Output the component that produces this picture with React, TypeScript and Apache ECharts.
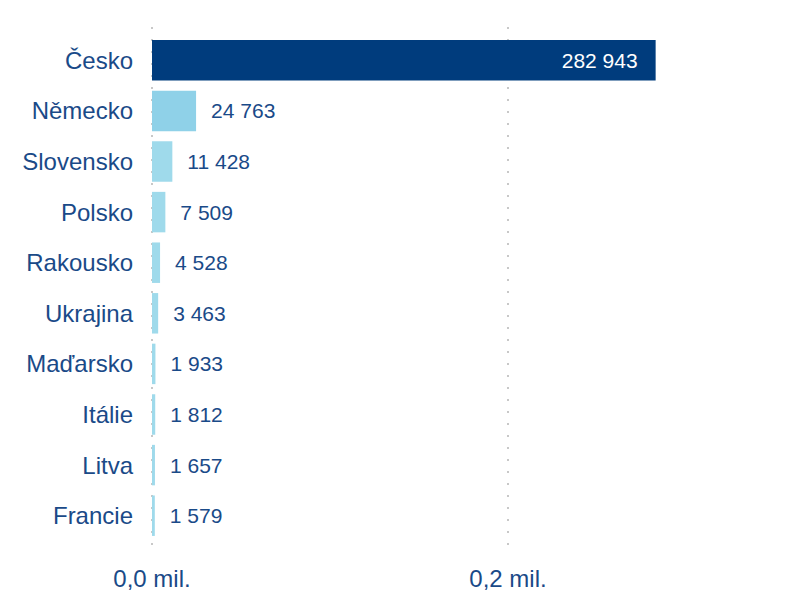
import React, { useEffect, useRef } from "react";
import * as echarts from "echarts";

const categories = ["Česko", "Německo", "Slovensko", "Polsko", "Rakousko", "Ukrajina", "Maďarsko", "Itálie", "Litva", "Francie"];
const values = [282943, 24763, 11428, 7509, 4528, 3463, 1933, 1812, 1657, 1579];
const axisTicks = [0, 200000, 400000];

const NAVY = "#003c7d";
const TEXT = "#1a4a88";
const FONT = "'Liberation Sans', Arial, sans-serif";

function fmtThousands(v: number): string {
  return String(v).replace(/\B(?=(\d{3})+(?!\d))/g, " ");
}

export default function App() {
  const ref = useRef<HTMLDivElement>(null);
  useEffect(() => {
    document.body.style.margin = "0";
    if (!ref.current) return;
    const chart = echarts.init(ref.current, null, { renderer: "svg" });
    const left = 152;
    const width = 712;
    chart.setOption({
      animation: false,
      textStyle: { fontFamily: FONT },
      grid: [
        { left, width, top: 35, height: 506 },
        { left, width, top: 27, height: 528 },
      ],
      xAxis: [
        {
          gridIndex: 0,
          type: "value",
          min: axisTicks[0],
          max: axisTicks[axisTicks.length - 1],
          interval: axisTicks[1] - axisTicks[0],
          axisLabel: { show: false },
          axisLine: { show: false },
          axisTick: { show: false },
          splitLine: { show: false },
        },
        {
          gridIndex: 1,
          type: "value",
          min: axisTicks[0],
          max: axisTicks[axisTicks.length - 1],
          interval: axisTicks[1] - axisTicks[0],
          axisLine: { show: false },
          axisTick: { show: false },
          splitLine: { show: true, lineStyle: { color: "#c8c8c8", width: 2, type: [2, 10] } },
          axisLabel: {
            color: TEXT,
            fontSize: 24,
            fontFamily: FONT,
            margin: 11,
            showMaxLabel: false,
            formatter: (v: number) => (v / 1e6).toFixed(1).replace(".", ",") + " mil.",
          },
        },
      ],
      yAxis: [
        {
          gridIndex: 0,
          type: "category",
          data: categories,
          inverse: true,
          axisLine: { show: false },
          axisTick: { show: false },
          axisLabel: { color: TEXT, fontSize: 24, fontFamily: FONT, margin: 19 },
        },
        {
          gridIndex: 1,
          type: "category",
          data: categories,
          inverse: true,
          show: false,
        },
      ],
      series: [
        {
          type: "bar",
          xAxisIndex: 0,
          yAxisIndex: 0,
          data: values.map((v, i) => ({
            value: v,
            itemStyle: { color: i === 0 ? NAVY : i === 1 ? "#8fd1e8" : "#9fdaeb" },
            label:
              i === 0
                ? { position: "insideRight", color: "#ffffff", distance: 18 }
                : { position: "right", color: TEXT, distance: 15 },
          })),
          barCategoryGap: "20%",
          z: 3,
          label: {
            show: true,
            fontSize: 21,
            fontFamily: FONT,
            formatter: (p: any) => fmtThousands(p.value),
          },
        },
      ],
    });
    return () => chart.dispose();
  }, []);
  return (
    <div style={{ width: 787, height: 591, overflow: "hidden", position: "relative" }}>
      <div ref={ref} style={{ width: 900, height: 591 }} />
    </div>
  );
}
